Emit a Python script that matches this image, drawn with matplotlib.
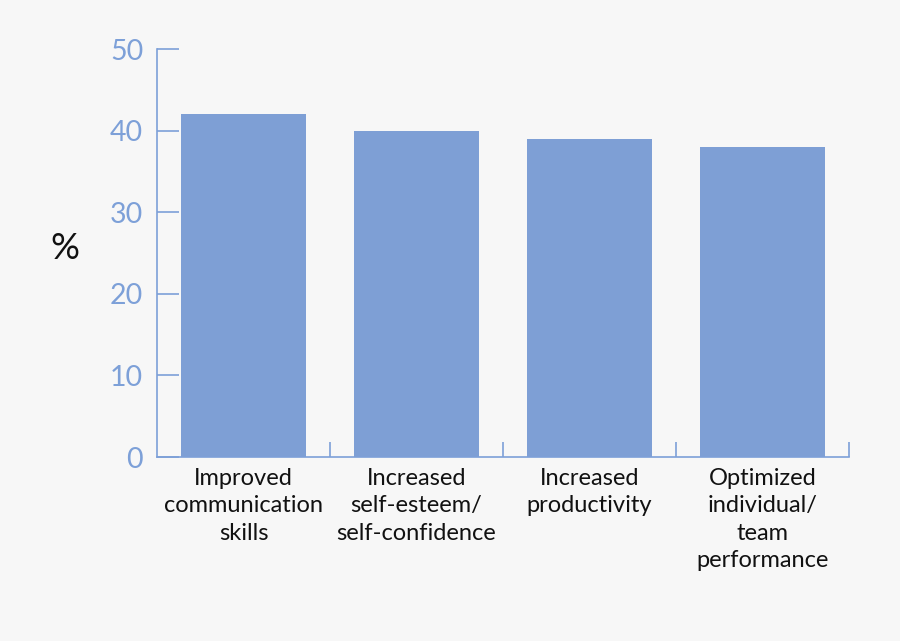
import matplotlib
matplotlib.use('Agg')
import matplotlib.pyplot as plt

plt.rcParams['font.family'] = ['Lato', 'DejaVu Sans']

categories = ['Improved\ncommunication\nskills',
              'Increased\nself-esteem/\nself-confidence',
              'Increased\nproductivity',
              'Optimized\nindividual/\nteam\nperformance']
values = [42, 40, 39, 38]
yticks = [0, 10, 20, 30, 40, 50]

blue = '#7e9fd5'
axis_blue = '#7da0d8'
bg = '#f7f7f7'

fig = plt.figure(figsize=(9, 6.41), dpi=100, facecolor=bg)
ax = fig.add_axes([157/900, 1 - 457/641, (849-157)/900, (457-49)/641])
ax.set_facecolor(bg)

x = list(range(len(categories)))
ax.bar(x, values, width=0.72, color=blue, zorder=2)

ax.set_xlim(-0.5, len(categories) - 0.5)
ax.set_ylim(0, 50)

for s in ['top', 'right']:
    ax.spines[s].set_visible(False)
for s in ['left', 'bottom']:
    ax.spines[s].set_color(axis_blue)
    ax.spines[s].set_linewidth(1.2)

ax.set_yticks(yticks)
ax.set_yticklabels([str(t) for t in yticks])
ax.tick_params(axis='y', direction='in', length=16, width=1.2, color=axis_blue,
               labelcolor=axis_blue, labelsize=20.5, pad=10)

# category labels centered, ticks between categories
ax.set_xticks([i + 0.5 for i in x])
ax.set_xticklabels([])
ax.tick_params(axis='x', direction='in', length=11, width=1.2, color=axis_blue)
for i, c in enumerate(categories):
    ax.text(i, -1.3, c, ha='center', va='top', fontsize=17, color='#111111',
            linespacing=1.38)

fig.text(65/900, 1 - 248/641, '%', ha='center', va='center', fontsize=26, color='#111111')

fig.savefig('out.png', dpi=100, facecolor=bg)
